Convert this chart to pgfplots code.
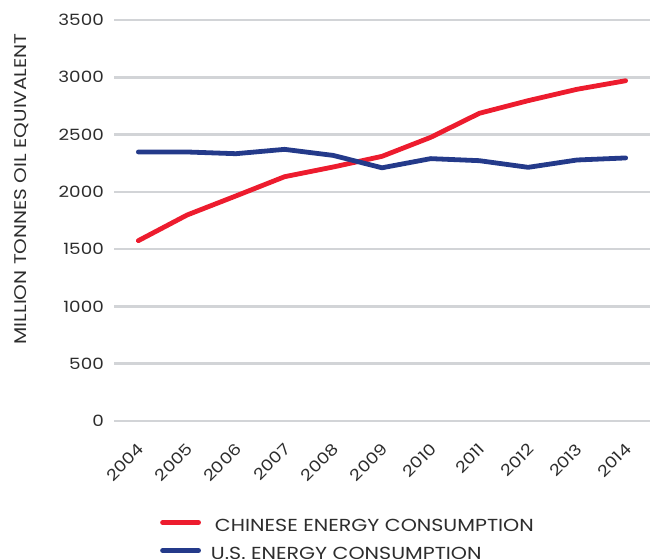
\documentclass[border=0pt]{standalone}
\usepackage{fontspec}
\setmainfont{Poppins}[FakeStretch=1.18]
\usepackage{pgfplots}
\pgfplotsset{compat=1.18}
\definecolor{cnred}{RGB}{237,28,46}
\definecolor{usblue}{RGB}{36,58,138}
\definecolor{gridgray}{RGB}{210,212,215}
\definecolor{txt}{RGB}{45,45,45}

\begin{document}
\begin{tikzpicture}
\begin{scope}
\clip (0bp,0bp) rectangle (651bp,559bp);
\begin{axis}[
  at={(114bp,138bp)}, anchor=south west,
  scale only axis, width=536bp, height=401bp,
  xmin=2003.5, xmax=2014.5, ymin=0, ymax=3500,
  axis line style={draw=none},
  major tick length=0pt,
  xtick={2004,2005,...,2014},
  ytick={0,500,...,3500},
  ymajorgrids,
  grid style={gridgray, line width=2.6bp},
  /pgf/number format/assume math mode=true,
  /pgf/number format/1000 sep={},
  tick label style={font=\fontsize{15.6}{17}\selectfont, text=txt},
  yticklabel style={anchor=east, inner sep=0pt, xshift=-10bp},
  % shifts are taken in the rotated frame of the label
  xticklabel style={rotate=45, anchor=east, inner sep=0pt, xshift=-16bp, yshift=-19.8bp},
  ylabel={MILLION TONNES OIL EQUIVALENT},
  ylabel style={at={(axis description cs:-0.172,0.579)}, anchor=center,
    font=\fontsize{17}{18}\selectfont, text=txt},
  legend style={at={(axis description cs:0.0858,-0.2955)}, anchor=west,
    draw=none, fill=none, inner sep=0pt,
    font=\fontsize{17.5}{18}\selectfont, text=txt,
    row sep=16bp,
    nodes={inner xsep=0pt, inner ysep=0pt, text height=12bp, text depth=0pt}},
  legend cell align=left,
  legend image code/.code={\draw[#1, line cap=round] (0bp,3bp) -- (36bp,3bp);},
  every axis plot/.append style={line width=4.8bp, line join=round, line cap=round},
]
\addplot[cnred] coordinates {
  (2004,1574) (2005,1798) (2006,1964) (2007,2132) (2008,2217) (2009,2310)
  (2010,2476) (2011,2686) (2012,2796) (2013,2895) (2014,2970)};
\addlegendentry{\hspace{14bp}CHINESE ENERGY CONSUMPTION}
\addplot[usblue] coordinates {
  (2004,2348) (2005,2348) (2006,2333) (2007,2371) (2008,2318) (2009,2210)
  (2010,2290) (2011,2272) (2012,2214) (2013,2278) (2014,2296)};
\addlegendentry{\hspace{10bp}U.S. ENERGY CONSUMPTION}
\end{axis}
\end{scope}
\pgfresetboundingbox
\path[use as bounding box] (0bp,0bp) rectangle (651bp,559bp);
\end{tikzpicture}
\end{document}
